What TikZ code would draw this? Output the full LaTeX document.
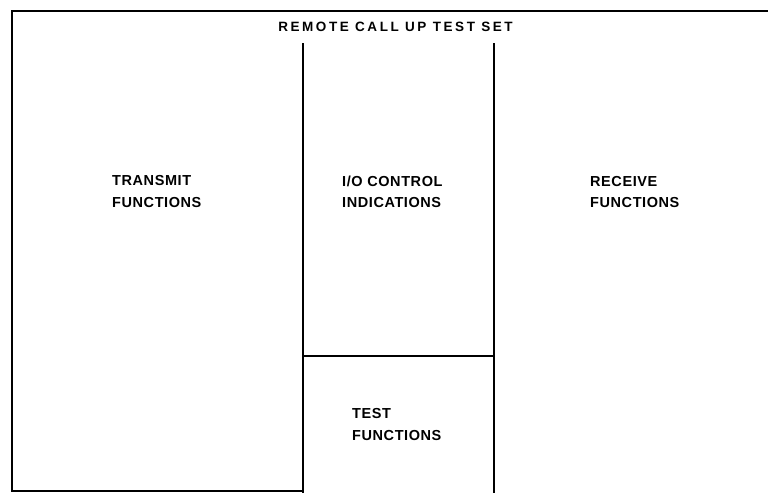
\documentclass[tikz,border=0pt]{standalone}
\usepackage{fontspec}
\setmainfont{Liberation Sans}
\newfontfamily\labelfont[LetterSpace=4]{Liberation Sans Bold}
\newfontfamily\titlefont[LetterSpace=19]{Liberation Sans Bold}
\begin{document}
\begin{tikzpicture}[x=1pt,y=-1pt,
  rule/.style={line width=1.5pt,black},
  lbl/.style={inner sep=0pt,anchor=west,align=left,font=\labelfont\fontsize{14.5}{21.5}\selectfont},
  ttl/.style={inner sep=0pt,font=\titlefont\fontsize{13.5}{15}\selectfont}]
\useasboundingbox (0,0) rectangle (768,493);
% frame corners and division points
\coordinate (bl) at (12,491);
\coordinate (tl) at (12,11);
\coordinate (tr) at (768,11);
\coordinate (bm) at (303,491);
\coordinate (v1t) at (303,43);
\coordinate (v1b) at (303,493);
\coordinate (v2t) at (494,43);
\coordinate (v2b) at (494,493);
\coordinate (hl) at (303,356);
\coordinate (hr) at (494,356);
\draw[rule] (bm) -- (bl) -- (tl) -- (tr);
\draw[rule] (v1t) -- (v1b);
\draw[rule] (v2t) -- (v2b);
\draw[rule] (hl) -- (hr);
% texts
\node[ttl] (title) at (395.5,27) {REMOTE CALL UP TEST SET};
\node[lbl] (transmit) at (112,191.5) {TRANSMIT\\FUNCTIONS};
\node[lbl] (io) at (342,192) {I/O CONTROL\\INDICATIONS};
\node[lbl] (receive) at (590,192) {RECEIVE\\FUNCTIONS};
\node[lbl] (test) at (352,424.5) {TEST\\FUNCTIONS};
\end{tikzpicture}
\end{document}
